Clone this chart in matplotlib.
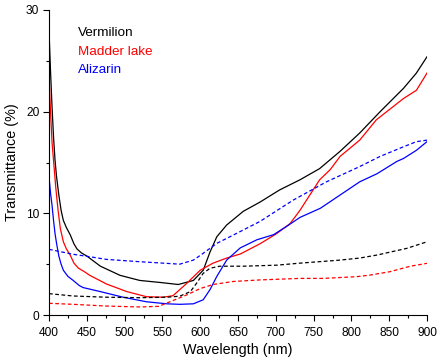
import matplotlib
matplotlib.use("Agg")
import matplotlib.pyplot as plt
from matplotlib.ticker import MultipleLocator

plt.rcParams['font.family'] = ['Liberation Sans', 'DejaVu Sans']

# Solid curves
verm_nm = [400, 402, 404, 406, 408, 410, 413, 416, 419, 423, 428, 433, 437, 443, 450, 468, 494, 520, 547, 571,
           591, 604, 613, 622, 635, 657, 679, 705, 732, 758, 785, 811, 838, 869, 886, 900]
verm_T = [28.0, 24.0, 20.5, 17.5, 15.2, 13.6, 11.8, 10.3, 9.3, 8.6, 7.9, 7.0, 6.5, 6.1, 5.8, 4.8, 3.9, 3.4, 3.2, 3.0,
          3.4, 4.4, 6.2, 7.7, 8.85, 10.2, 11.1, 12.3, 13.3, 14.4, 16.1, 17.9, 20.0, 22.3, 23.8, 25.4]

madder_nm = [400, 402, 404, 406, 409, 412, 415, 419, 423, 428, 433, 439, 446, 454, 476, 503, 529, 551, 564, 582, 600,
             617, 635, 653, 679, 701, 719, 732, 745, 758, 772, 785, 798, 811, 833, 869, 886, 900]
madder_T = [23.6, 20.0, 17.0, 15.2, 12.5, 10.3, 8.5, 7.2, 6.5, 5.9, 5.1, 4.6, 4.3, 3.9, 3.05, 2.3, 1.8, 1.75, 1.9, 3.1, 4.4,
            5.1, 5.6, 6.0, 7.0, 8.0, 9.0, 10.3, 11.8, 13.3, 14.3, 15.6, 16.4, 17.2, 19.2, 21.3, 22.1, 23.8]

aliz_nm = [400, 402, 404, 406, 408, 410, 413, 416, 419, 425, 432, 440, 445, 468, 498, 529, 556, 573, 591, 604, 613, 622,
           635, 653, 675, 697, 714, 732, 759, 789, 811, 834, 860, 869, 886, 900]
aliz_T = [13.6, 12.0, 10.8, 9.3, 8.0, 7.05, 5.8, 5.0, 4.4, 3.8, 3.4, 2.9, 2.7, 2.3, 1.75, 1.3, 1.1, 1.05, 1.1, 1.5, 2.5, 3.8,
          5.4, 6.6, 7.4, 7.9, 8.7, 9.6, 10.5, 12.0, 13.1, 13.9, 15.1, 15.4, 16.2, 17.05]

# Dashed curves
verm_d_nm = [400, 432, 476, 520, 556, 573, 587, 595, 604, 613, 626, 657, 701, 732, 785, 811, 834, 873, 900]
verm_d_T = [2.1, 1.87, 1.75, 1.7, 1.75, 1.85, 2.3, 3.1, 4.1, 4.6, 4.8, 4.8, 4.9, 5.1, 5.4, 5.6, 5.9, 6.55, 7.2]

madder_d_nm = [400, 432, 476, 520, 545, 560, 582, 600, 617, 644, 679, 732, 763, 807, 825, 851, 878, 900]
madder_d_T = [1.15, 1.05, 0.88, 0.79, 0.85, 1.3, 1.97, 2.6, 3.0, 3.3, 3.45, 3.6, 3.6, 3.77, 3.93, 4.26, 4.8, 5.08]

aliz_d_nm = [400, 432, 454, 476, 520, 573, 591, 604, 622, 644, 679, 723, 767, 811, 838, 869, 886, 900]
aliz_d_T = [6.46, 5.97, 5.73, 5.47, 5.24, 5.0, 5.4, 6.07, 7.05, 7.87, 9.2, 11.3, 13.1, 14.6, 15.6, 16.55, 17.05, 17.2]

labels = ["Vermilion", "Madder lake", "Alizarin"]
colors = ["black", "#ff0000", "#0000ff"]

fig = plt.figure(figsize=(4.4, 3.64), dpi=100)
ax = fig.add_axes([49 / 440, 49 / 364, 378 / 440, 305 / 364])

solid = [(verm_nm, verm_T), (madder_nm, madder_T), (aliz_nm, aliz_T)]
dashed = [(verm_d_nm, verm_d_T), (madder_d_nm, madder_d_T), (aliz_d_nm, aliz_d_T)]
for (x, y), c in zip(solid, colors):
    ax.plot(x, y, color=c, lw=0.9, solid_joinstyle='round')
for (x, y), c in zip(dashed, colors):
    ax.plot(x, y, color=c, lw=0.9, linestyle=(0, (3, 2)))

ax.set_xlim(400, 900)
ax.set_ylim(0, 30)
ax.spines['top'].set_visible(False)
ax.spines['right'].set_visible(False)
ax.xaxis.set_major_locator(MultipleLocator(50))
ax.xaxis.set_minor_locator(MultipleLocator(25))
ax.yaxis.set_major_locator(MultipleLocator(10))
ax.yaxis.set_minor_locator(MultipleLocator(5))
ax.tick_params(which='major', direction='out', length=4.5, width=0.8, labelsize=8.6, pad=2.5)
ax.tick_params(which='minor', direction='out', length=2.5, width=0.8)
ax.tick_params(axis='x', which='major', pad=4)

ax.set_xlabel("Wavelength (nm)", fontsize=10.4, labelpad=3)
ax.set_ylabel("Transmittance (%)", fontsize=10.4, labelpad=5)

ys = [0.925, 0.863, 0.803]
for lab, c, yy in zip(labels, colors, ys):
    ax.text(0.0775, yy, lab, color=c, fontsize=9.7, transform=ax.transAxes,
            ha='left', va='center')

fig.savefig("out.png", dpi=100)
